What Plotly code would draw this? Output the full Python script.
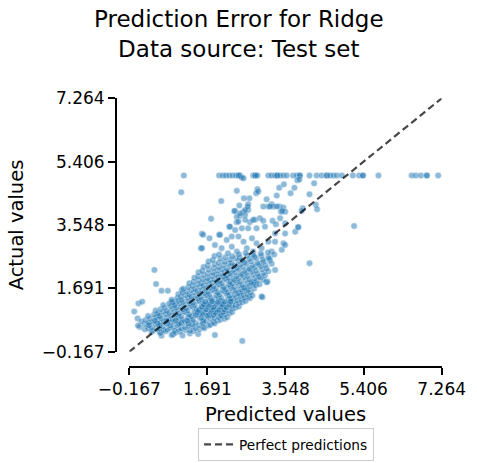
import plotly.graph_objects as go

# ---------------- data ----------------
tick_vals = [-0.167, 1.691, 3.548, 5.406, 7.264]
axis_min, axis_max = -0.167, 7.264

# points whose actual value is capped at 5.0
capped_pred = [1.13, 1.97, 2.06, 2.13, 2.21, 2.29, 2.37, 2.43, 2.43, 2.47, 2.78, 2.83, 2.83,
               2.88, 3.14, 3.22, 3.30, 3.35, 3.35, 3.42, 3.50, 3.58, 3.73, 3.82, 3.89, 3.89,
               4.12, 4.29, 4.41, 4.53, 4.53, 4.61, 4.69, 4.77, 4.89, 5.15, 5.30, 5.39, 5.39,
               5.76, 6.55, 6.65, 6.77, 6.91, 6.91, 7.18]
capped_actual = 5.0

# sparse points outside the dense core
sparse_pred = [2.51, 2.55, 1.07, 2.39, 2.88, 3.40, 3.51, 3.83, 3.88, 3.76, 3.67, 4.23, 4.12,
               2.85, 2.90, 2.69, 2.56, 2.02, 3.10, 3.34, 3.22, 3.14, 3.02, 3.26, 3.40, 3.50,
               3.44, 3.54, 3.96, 4.27, 4.30, 5.18, 2.45, 2.66, 2.35, 2.55, 2.66, 2.47, 2.59,
               2.39, 1.78, 2.94, 2.82, 3.02, 3.24, 3.32, 3.85, 2.21, 2.39, 2.70, 1.56, 1.59,
               1.74, 1.97, 2.27, 2.51,
               1.54, 2.33, 2.47, 2.59, 2.65, 3.18, 3.34, 3.47, 3.93, 2.43, 2.59, 2.78, 3.42,
               3.54, 2.23, 2.35, 2.66, 2.86, 3.06, 3.30, 3.54, 3.78, 1.99, 2.15, 2.43, 2.55,
               2.75, 2.86, 3.14, 3.30, 3.50, 1.87, 2.03, 2.27, 2.39, 2.63, 2.78, 2.98, 3.22,
               3.46,
               4.12, 3.00, 3.12, 3.30, 3.54, 3.85, 1.56, 0.43, 0.47, 0.60, 0.75, -0.05, 0.03,
               0.05, 0.14, 0.29, 0.56, 0.84, 1.87, 2.52, 2.78, 1.08, 0.52, 0.84, 0.92, 2.98,
               2.82, 3.10, 2.70]
sparse_actual = [4.94, 4.92, 4.51, 4.55, 4.60, 4.64, 4.74, 4.86, 4.88, 4.64, 4.48, 4.77, 4.45,
                 4.48, 4.53, 4.33, 4.33, 4.25, 4.30, 4.41, 4.16, 4.09, 4.09, 4.09, 4.09, 4.06,
                 3.94, 3.94, 4.04, 4.14, 4.01, 3.52, 4.12, 4.16, 3.96, 3.94, 3.99, 3.82, 3.84,
                 3.79, 3.73, 3.75, 3.70, 3.67, 3.67, 3.57, 3.49, 3.50, 3.63, 3.63, 3.29, 3.26,
                 3.16, 3.26, 3.21, 3.45,
                 2.87, 3.96, 3.89, 3.99, 4.09, 4.09, 4.09, 3.96, 3.96, 3.65, 3.70, 3.70, 3.75,
                 3.60, 3.50, 3.40, 3.45, 3.45, 3.50, 3.30, 3.30, 3.35, 3.26, 3.11, 3.21, 3.06,
                 3.16, 3.01, 3.06, 3.06, 3.01, 2.96, 2.87, 2.91, 2.77, 2.87, 2.77, 2.87, 2.77,
                 2.82,
                 2.43, 1.43, 1.89, 2.23, 2.96, 3.48, 2.87, 2.23, 1.82, 1.62, 1.62, 1.01, 0.81,
                 1.25, 1.30, 0.62, 0.42, 0.32, 0.32, 0.15, 1.82, 1.64, 0.91, 1.30, 1.25, 1.45,
                 1.84, 1.87, 1.40]

# dense core, written as groups of (predicted, actual) values
core_pred = [
    [0.60, 0.87, 1.10, 1.47],
    [0.36, 0.57, 0.70, 0.93, 1.04, 1.27, 1.36],
    [0.20, 0.39, 0.48, 0.65, 0.74, 0.91, 1.00, 1.17, 1.28, 1.50, 1.62],
    [0.08, 0.28, 0.37, 0.55, 0.63, 0.80, 0.89, 1.07, 1.16, 1.33, 1.41, 1.60, 1.72],
    [0.04, 0.20, 0.30, 0.47, 0.56, 0.72, 0.81, 0.98, 1.07, 1.24, 1.33, 1.50, 1.59, 1.76, 1.86],
    [0.12, 0.30, 0.40, 0.57, 0.65, 0.82, 0.91, 1.07, 1.16, 1.32, 1.41, 1.58, 1.66, 1.84, 1.93],
    [0.22, 0.33, 0.51, 0.60, 0.77, 0.86, 1.02, 1.10, 1.27, 1.35, 1.52, 1.60, 1.77, 1.86, 2.00, 2.10],
    [0.28, 0.47, 0.56, 0.73, 0.82, 0.99, 1.07, 1.23, 1.31, 1.47, 1.55, 1.71, 1.79, 1.96, 2.04, 2.16],
    [0.42, 0.52, 0.70, 0.78, 0.94, 1.02, 1.18, 1.26, 1.42, 1.50, 1.66, 1.74, 1.90, 1.98, 2.12, 2.22],
    [0.46, 0.64, 0.73, 0.90, 0.98, 1.14, 1.22, 1.38, 1.46, 1.62, 1.70, 1.86, 1.94, 2.10, 2.18, 2.28],
    [0.58, 0.68, 0.86, 0.95, 1.11, 1.19, 1.35, 1.43, 1.59, 1.67, 1.83, 1.91, 2.07, 2.15, 2.28, 2.36],
    [0.64, 0.82, 0.91, 1.07, 1.15, 1.31, 1.39, 1.55, 1.63, 1.79, 1.87, 2.03, 2.11, 2.27, 2.35, 2.44],
    [0.78, 0.87, 1.03, 1.11, 1.27, 1.35, 1.51, 1.59, 1.75, 1.83, 1.99, 2.07, 2.23, 2.31, 2.44, 2.52],
    [0.84, 1.00, 1.08, 1.24, 1.32, 1.48, 1.56, 1.72, 1.80, 1.96, 2.04, 2.20, 2.28, 2.40, 2.50, 2.60],
    [0.97, 1.06, 1.22, 1.30, 1.46, 1.54, 1.70, 1.78, 1.94, 2.02, 2.18, 2.26, 2.38, 2.47, 2.58, 2.68],
    [1.00, 1.17, 1.26, 1.42, 1.50, 1.66, 1.74, 1.90, 1.98, 2.14, 2.22, 2.34, 2.46, 2.55, 2.64, 2.76],
    [1.10, 1.20, 1.37, 1.46, 1.62, 1.70, 1.86, 1.94, 2.10, 2.18, 2.30, 2.42, 2.52, 2.62, 2.72],
    [1.12, 1.31, 1.40, 1.57, 1.65, 1.81, 1.89, 2.05, 2.13, 2.25, 2.37, 2.49, 2.58, 2.66, 2.80],
    [1.24, 1.34, 1.52, 1.60, 1.76, 1.84, 2.00, 2.08, 2.24, 2.32, 2.44, 2.56, 2.70, 2.84],
    [1.26, 1.45, 1.55, 1.72, 1.80, 1.96, 2.04, 2.20, 2.28, 2.40, 2.52, 2.65, 2.78, 2.93],
    [1.36, 1.48, 1.66, 1.75, 1.91, 1.99, 2.15, 2.23, 2.35, 2.47, 2.60, 2.73, 2.87, 3.02],
    [1.38, 1.58, 1.69, 1.86, 1.95, 2.11, 2.19, 2.31, 2.43, 2.56, 2.69, 2.82, 2.96],
    [1.47, 1.60, 1.80, 1.90, 2.07, 2.15, 2.27, 2.39, 2.52, 2.65, 2.78, 2.92, 3.06],
    [1.48, 1.70, 1.82, 2.01, 2.10, 2.23, 2.36, 2.49, 2.62, 2.75, 2.89, 3.03],
    [1.57, 1.72, 1.93, 2.04, 2.18, 2.31, 2.44, 2.58, 2.71, 2.85, 2.99, 3.14],
    [1.60, 1.84, 1.96, 2.15, 2.26, 2.40, 2.54, 2.68, 2.82, 2.96, 3.10],
    [1.70, 1.86, 2.07, 2.19, 2.34, 2.48, 2.62, 2.77, 2.92, 3.07, 3.22],
    [1.72, 1.96, 2.10, 2.27, 2.43, 2.58, 2.73, 2.88, 3.03, 3.18],
    [1.82, 2.00, 2.23, 2.36, 2.53, 2.69, 2.85, 3.01, 3.17],
    [1.86, 2.12, 2.28, 2.46, 2.64, 2.81, 2.98, 3.14],
    [1.97, 2.18, 2.44, 2.60, 2.78, 2.96, 3.13, 3.28],
    [1.41, 1.57, 1.68, 1.84, 2.01],
    [1.46, 1.58, 1.77, 1.88, 2.06],
    [1.49, 1.66, 1.79, 1.97, 2.09],
    [1.56, 1.71, 1.83, 2.01, 2.14],
    [1.61, 1.73, 1.91, 2.04, 2.21],
    [1.64, 1.81, 1.94, 2.11, 2.24],
    [0.51, 0.74, 1.01, 1.24],
    [0.44, 0.71, 0.94, 1.21],
]
core_actual = [
    [0.30, 0.34, 0.31, 0.35],
    [0.41, 0.38, 0.43, 0.39, 0.42, 0.37, 0.44],
    [0.49, 0.45, 0.50, 0.46, 0.48, 0.44, 0.50, 0.47, 0.45, 0.49, 0.52],
    [0.56, 0.52, 0.55, 0.51, 0.57, 0.53, 0.56, 0.52, 0.55, 0.58, 0.52, 0.55, 0.60],
    [0.60, 0.64, 0.61, 0.63, 0.59, 0.65, 0.60, 0.62, 0.66, 0.59, 0.63, 0.61, 0.65, 0.62, 0.66],
    [0.72, 0.68, 0.71, 0.67, 0.73, 0.69, 0.72, 0.68, 0.71, 0.74, 0.67, 0.70, 0.73, 0.69, 0.74],
    [0.76, 0.80, 0.77, 0.81, 0.75, 0.79, 0.82, 0.76, 0.80, 0.77, 0.81, 0.75, 0.79, 0.82, 0.77, 0.80],
    [0.88, 0.84, 0.87, 0.83, 0.89, 0.85, 0.88, 0.84, 0.87, 0.90, 0.83, 0.86, 0.89, 0.85, 0.88, 0.84],
    [0.92, 0.96, 0.93, 0.97, 0.91, 0.95, 0.98, 0.92, 0.96, 0.93, 0.97, 0.91, 0.95, 0.98, 0.93, 0.96],
    [1.04, 1.00, 1.03, 0.99, 1.05, 1.01, 1.04, 1.00, 1.03, 1.06, 0.99, 1.02, 1.05, 1.01, 1.04, 1.00],
    [1.08, 1.12, 1.09, 1.13, 1.07, 1.11, 1.14, 1.08, 1.12, 1.09, 1.13, 1.07, 1.11, 1.14, 1.09, 1.12],
    [1.20, 1.16, 1.19, 1.15, 1.21, 1.17, 1.20, 1.16, 1.19, 1.22, 1.15, 1.18, 1.21, 1.17, 1.20, 1.16],
    [1.24, 1.28, 1.25, 1.29, 1.23, 1.27, 1.30, 1.24, 1.28, 1.25, 1.29, 1.23, 1.27, 1.30, 1.25, 1.28],
    [1.36, 1.32, 1.35, 1.31, 1.37, 1.33, 1.36, 1.32, 1.35, 1.38, 1.31, 1.34, 1.37, 1.33, 1.36, 1.32],
    [1.40, 1.44, 1.41, 1.45, 1.39, 1.43, 1.46, 1.40, 1.44, 1.41, 1.45, 1.39, 1.43, 1.46, 1.41, 1.44],
    [1.52, 1.48, 1.51, 1.47, 1.53, 1.49, 1.52, 1.48, 1.51, 1.54, 1.47, 1.50, 1.53, 1.49, 1.52, 1.48],
    [1.56, 1.60, 1.57, 1.61, 1.55, 1.59, 1.62, 1.56, 1.60, 1.57, 1.61, 1.55, 1.59, 1.62, 1.57],
    [1.68, 1.64, 1.67, 1.63, 1.69, 1.65, 1.68, 1.64, 1.67, 1.70, 1.63, 1.66, 1.69, 1.65, 1.68],
    [1.72, 1.76, 1.73, 1.77, 1.71, 1.75, 1.78, 1.72, 1.76, 1.73, 1.77, 1.71, 1.75, 1.78],
    [1.84, 1.80, 1.83, 1.79, 1.85, 1.81, 1.84, 1.80, 1.83, 1.86, 1.79, 1.82, 1.85, 1.81],
    [1.88, 1.92, 1.89, 1.93, 1.87, 1.91, 1.94, 1.88, 1.92, 1.89, 1.93, 1.87, 1.91, 1.94],
    [2.00, 1.96, 1.99, 1.95, 2.01, 1.97, 2.00, 1.96, 1.99, 2.02, 1.95, 1.98, 2.01],
    [2.04, 2.08, 2.05, 2.09, 2.03, 2.07, 2.10, 2.04, 2.08, 2.05, 2.09, 2.03, 2.07],
    [2.16, 2.12, 2.15, 2.11, 2.17, 2.13, 2.16, 2.12, 2.15, 2.18, 2.11, 2.14],
    [2.20, 2.24, 2.21, 2.25, 2.19, 2.23, 2.26, 2.20, 2.24, 2.21, 2.25, 2.19],
    [2.32, 2.28, 2.31, 2.27, 2.33, 2.29, 2.32, 2.28, 2.31, 2.34, 2.27],
    [2.36, 2.40, 2.37, 2.41, 2.35, 2.39, 2.42, 2.36, 2.40, 2.37, 2.41],
    [2.48, 2.44, 2.47, 2.43, 2.49, 2.45, 2.48, 2.44, 2.47, 2.50],
    [2.52, 2.56, 2.53, 2.57, 2.51, 2.55, 2.58, 2.52, 2.56],
    [2.64, 2.60, 2.63, 2.59, 2.65, 2.61, 2.64, 2.60],
    [2.68, 2.72, 2.69, 2.73, 2.67, 2.71, 2.74, 2.68],
    [0.90, 0.92, 0.89, 0.91, 0.90],
    [0.99, 0.97, 1.00, 0.98, 0.99],
    [1.05, 1.07, 1.06, 1.05, 1.07],
    [1.14, 1.15, 1.13, 1.15, 1.14],
    [1.22, 1.21, 1.23, 1.22, 1.21],
    [1.30, 1.31, 1.29, 1.30, 1.31],
    [0.66, 0.67, 0.65, 0.66],
    [0.74, 0.73, 0.75, 0.74],
]

# ---------------- assemble ----------------
pred = list(capped_pred) + list(sparse_pred)
actual = [capped_actual] * len(capped_pred) + list(sparse_actual)
for xs, ys in zip(core_pred, core_actual):
    pred.extend(xs)
    actual.extend(ys)

W, H = 477, 463
font = "DejaVu Sans"

fig = go.Figure()
fig.add_trace(go.Scatter(
    x=pred, y=actual, mode="markers", showlegend=False, cliponaxis=False,
    marker=dict(size=6.5, color="#1f77b4", opacity=0.5,
                line=dict(color="white", width=0.5)),
    hoverinfo="skip",
))
fig.add_trace(go.Scatter(
    x=[axis_min, axis_max], y=[axis_min, axis_max], mode="lines",
    name="Perfect predictions", cliponaxis=False,
    line=dict(color="rgba(0,0,0,0.72)", width=2.2, dash="7px,4px"),
))

axis_common = dict(
    range=[axis_min, axis_max], tickvals=tick_vals, tickformat=".3f",
    showline=True, linecolor="black", linewidth=1.8,
    ticks="outside", ticklen=7, tickwidth=1.8, tickcolor="black",
    tickfont=dict(family=font, size=17, color="black"),
    showgrid=False, zeroline=False, anchor="free", automargin=False,
)

fig.update_layout(
    width=W, height=H,
    margin=dict(l=0, r=0, t=0, b=0),
    paper_bgcolor="white", plot_bgcolor="white",
    font=dict(family=font, color="black"),
    xaxis=dict(domain=[129.3 / W, 441.7 / W], position=(H - 366.7) / H,
               title=dict(text="Predicted values", standoff=8,
                          font=dict(family=font, size=19.5, color="black")),
               **axis_common),
    yaxis=dict(domain=[(H - 351.7) / H, (H - 98.3) / H], position=116 / W,
               title=dict(text="Actual values", standoff=12,
                          font=dict(family=font, size=19.5, color="black")),
               **axis_common),
    legend=dict(x=286 / W, xanchor="center", y=(H - 428) / H, yanchor="top",
                orientation="h", bordercolor="#cccccc", borderwidth=1,
                bgcolor="white", font=dict(family=font, size=13.7, color="black"),
                itemwidth=30),
    annotations=[dict(text="Prediction Error for Ridge<br>Data source: Test set",
                      x=0.5, xref="paper", xanchor="center",
                      y=1 - 33.5 / H, yref="paper", yanchor="middle",
                      showarrow=False,
                      font=dict(family=font, size=23, color="black"))],
)

fig.write_html("out.html", config={"displayModeBar": False},
               post_script="document.body.style.margin='0px';")
